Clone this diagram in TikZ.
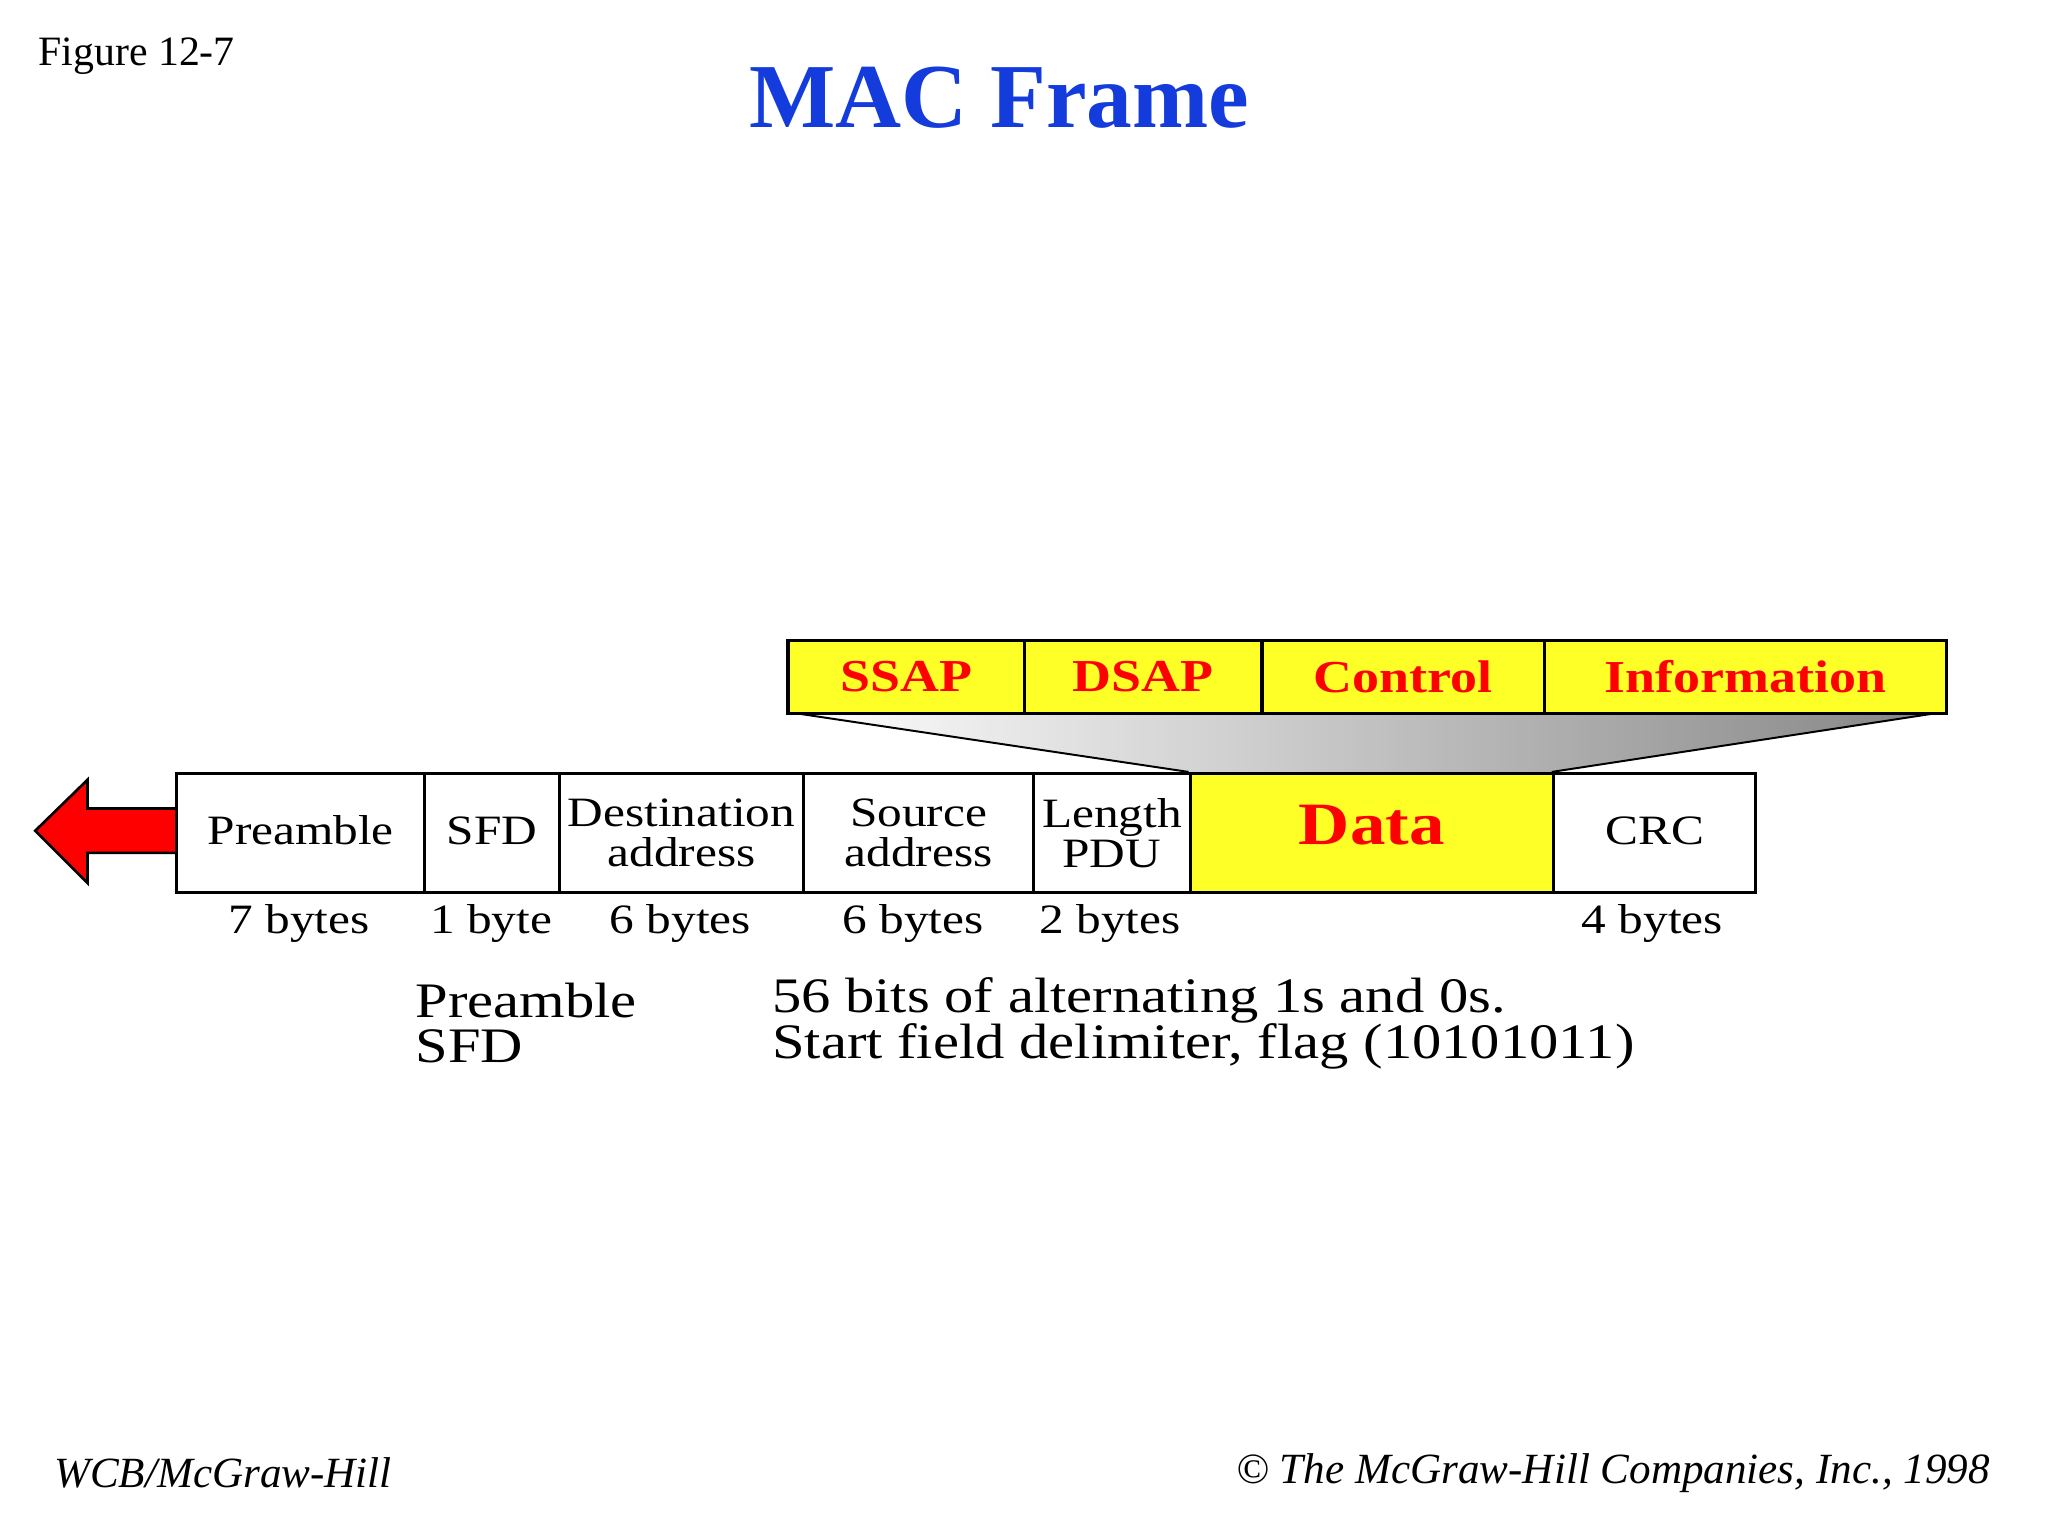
\documentclass[tikz,border=0pt]{standalone}
\usepackage{fontspec}
\setmainfont{Liberation Serif}
\newfontfamily\wideserif[FakeStretch=1.18]{Liberation Serif}
\definecolor{yel}{RGB}{255,255,40}
\definecolor{tblue}{RGB}{20,60,220}
\begin{document}
\begin{tikzpicture}[x=1pt,y=-1pt,
  fld/.style={draw=black,line width=2.5pt,minimum height=91pt,inner sep=0pt,anchor=north west,font=\wideserif\fontsize{32}{31}\selectfont,align=center},
  top/.style={draw=black,line width=2.5pt,fill=yel,minimum height=56pt,inner sep=0pt,anchor=north west,font=\wideserif\fontsize{35}{36}\selectfont\bfseries,text=red},
  lbl/.style={font=\wideserif\fontsize{32}{34}\selectfont},
  desc/.style={font=\wideserif\fontsize{38}{33}\selectfont,anchor=west,inner sep=0pt}]
\useasboundingbox (0,0) rectangle (1568,1176);
\node[anchor=west,font=\fontsize{32}{32}\selectfont] (fig) at (26,43) {Figure 12-7};
\node[font=\fontsize{70}{72}\selectfont\bfseries,text=tblue] (title) at (765,75) {MAC Frame};
% trapezoid
\shade[left color=white,right color=black!60,opacity=0.8] (602,545) -- (1489,545) -- (1188,591) -- (910,591) -- cycle;
\draw[line width=1.5pt] (602,545) -- (910,591) (1489,545) -- (1188,591);
% top
\node[top,minimum width=181pt] (ssap) at (602,489) {SSAP};
\node[top,minimum width=182pt] (dsap) at (783,489) {DSAP};
\node[top,minimum width=216pt] (ctl) at (965,489) {Control};
\node[top,minimum width=308pt] (info) at (1181,489) {Information};
% frame
\node[fld,minimum width=190pt] (pre) at (134,591) {\raisebox{4pt}{Preamble}};
\node[fld,minimum width=103pt] (sfd) at (324,591) {\raisebox{4pt}{SFD}};
\node[fld,minimum width=187pt] (dst) at (427,591) {Destination\\address};
\node[fld,minimum width=176pt] (src) at (614,591) {Source\\address};
\node[fld,minimum width=120pt] (len) at (790,591) {Length\\PDU};
\node[fld,minimum width=278pt,fill=yel,text=red,font=\wideserif\fontsize{46}{46}\selectfont\bfseries,anchor=north west] (data) at (910,591) {\raisebox{12pt}{Data}};
\node[fld,minimum width=155pt] (crc) at (1188,591) {\raisebox{4pt}{CRC}};
% arrow
\draw[line width=2pt,fill=red] (pre.west |- 0,619) -- (67,619) -- (67,597) -- (27,636) -- (67,676) -- (67,653) -- (pre.west |- 0,653);
% bytes
\node[lbl] (b1) at (229,707) {7 bytes};
\node[lbl] (b2) at (376,707) {1 byte};
\node[lbl] (b3) at (521,707) {6 bytes};
\node[lbl] (b4) at (699,707) {6 bytes};
\node[lbl] (b5) at (850,707) {2 bytes};
\node[lbl] (b6) at (1265,707) {4 bytes};
% descriptions
\node[desc] (d1) at (318,766) {Preamble};
\node[desc] (d2) at (318,801) {SFD};
\node[desc] (d3) at (591,766) {56 bits of alternating 1s and 0s.};
\node[desc] (d4) at (591,801) {Start field delimiter, flag (10101011)};
% footer
\node[anchor=west,font=\fontsize{33}{34}\selectfont\itshape] (f1) at (38,1128) {WCB/McGraw-Hill};
\node[anchor=east,font=\fontsize{33}{34}\selectfont\itshape] (f2) at (1527,1128) {\textcopyright\ The McGraw-Hill Companies, Inc., 1998};
\end{tikzpicture}
\end{document}
